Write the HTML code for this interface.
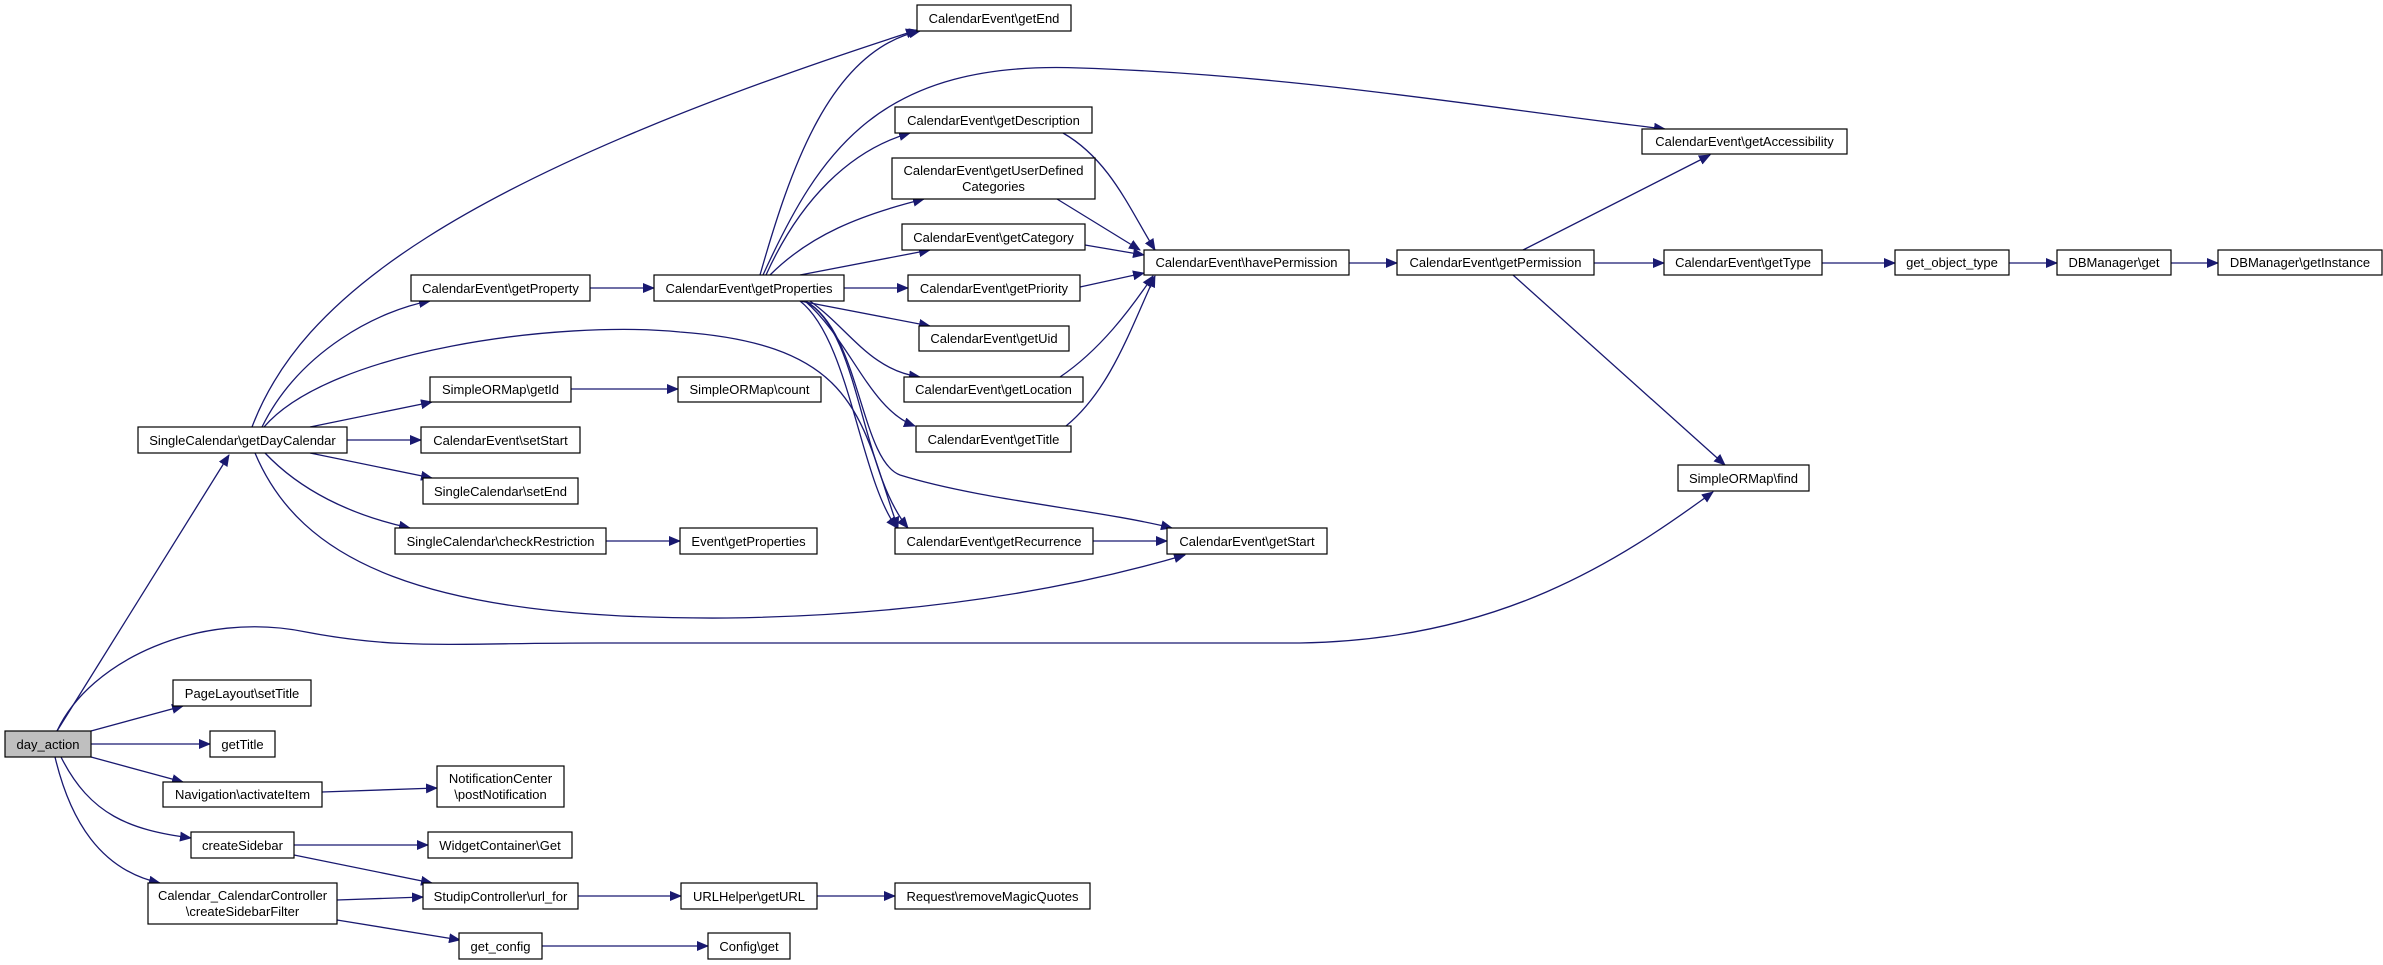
<!DOCTYPE html>
<html><head><meta charset="utf-8"><style>
html,body{margin:0;padding:0;background:#fff;}
svg{display:block;}
text{font-family:"Liberation Sans",Arial,sans-serif;font-size:13px;fill:#000;}
</style></head><body>
<svg width="2383" height="965" viewBox="0 0 2383 965" xmlns="http://www.w3.org/2000/svg">
<defs>
<marker id="a" markerWidth="12" markerHeight="10" refX="11" refY="5" orient="auto" markerUnits="userSpaceOnUse">
<path d="M0,0 L12,5 L0,10 z" fill="#191970"/>
</marker>
</defs>
<g fill="none" stroke="#191970" stroke-width="1.3" marker-end="url(#a)">
<path d="M57,731 L229,455"/>
<path d="M252,427 C300,300 450,180 917,30"/>
<path d="M262,427 C300,350 380,310 430,301"/>
<path d="M264,427 C330,350 560,320 680,332 C860,345 860,420 898,528"/>
<path d="M310,427 L432,402"/>
<path d="M347,440 L421,440"/>
<path d="M310,453 L432,478"/>
<path d="M265,453 C300,490 350,515 410,528"/>
<path d="M255,453 C300,560 420,620 727,618 C950,615 1100,580 1185,555"/>
<path d="M57,731 C90,660 200,610 306,632 C400,650 450,643 600,643 L1300,643 C1500,640 1620,560 1713,492"/>
<path d="M91,731 L183,706"/>
<path d="M91,744 L210,744"/>
<path d="M91,757 L183,782"/>
<path d="M61,757 C90,815 130,830 191,838"/>
<path d="M55,757 C70,820 100,870 160,883"/>
<path d="M322,792 L437,788"/>
<path d="M294,845 L428,845"/>
<path d="M294,855 L432,883"/>
<path d="M337,900 L423,897"/>
<path d="M337,920 L460,940"/>
<path d="M578,896 L681,896"/>
<path d="M817,896 L895,896"/>
<path d="M542,946 L708,946"/>
<path d="M571,389 L678,389"/>
<path d="M606,541 L680,541"/>
<path d="M590,288 L654,288"/>
<path d="M760,275 C790,170 830,50 920,31"/>
<path d="M763,275 C820,150 880,60 1080,68 C1300,75 1500,110 1665,129"/>
<path d="M766,275 C800,200 850,150 910,133"/>
<path d="M770,275 C810,235 860,215 924,199"/>
<path d="M800,275 L930,250"/>
<path d="M844,288 L908,288"/>
<path d="M800,301 L930,326"/>
<path d="M810,301 C850,330 870,370 920,377"/>
<path d="M805,301 C850,340 870,410 915,426"/>
<path d="M800,301 C850,340 860,480 897,528"/>
<path d="M805,301 C860,330 860,470 908,528"/>
<path d="M805,301 C860,330 860,460 900,475 C980,500 1100,510 1172,528"/>
<path d="M1063,133 C1110,160 1130,210 1155,250"/>
<path d="M1057,199 L1140,250"/>
<path d="M1085,245 L1144,255"/>
<path d="M1080,287 L1144,273"/>
<path d="M1060,377 C1100,350 1130,310 1153,276"/>
<path d="M1066,426 C1110,390 1130,330 1155,276"/>
<path d="M1093,541 L1167,541"/>
<path d="M1349,263 L1397,263"/>
<path d="M1523,250 L1710,155"/>
<path d="M1594,263 L1664,263"/>
<path d="M1822,263 L1895,263"/>
<path d="M2009,263 L2057,263"/>
<path d="M2171,263 L2218,263"/>
<path d="M1513,275 L1725,465"/>
</g>
<g stroke="#000" stroke-width="1.2" fill="#fff">
<rect x="5" y="731" width="86" height="26" fill="#bfbfbf"/>
<rect x="138" y="427" width="209" height="26"/>
<rect x="411" y="275" width="179" height="26"/>
<rect x="654" y="275" width="190" height="26"/>
<rect x="430" y="377" width="141" height="25"/>
<rect x="678" y="377" width="143" height="25"/>
<rect x="421" y="427" width="159" height="26"/>
<rect x="423" y="478" width="155" height="26"/>
<rect x="395" y="528" width="211" height="26"/>
<rect x="680" y="528" width="137" height="26"/>
<rect x="895" y="528" width="198" height="26"/>
<rect x="1167" y="528" width="160" height="26"/>
<rect x="173" y="680" width="138" height="26"/>
<rect x="210" y="731" width="65" height="26"/>
<rect x="163" y="782" width="159" height="25"/>
<rect x="437" y="766" width="127" height="41"/>
<rect x="191" y="832" width="103" height="26"/>
<rect x="428" y="832" width="144" height="26"/>
<rect x="148" y="883" width="189" height="41"/>
<rect x="423" y="883" width="155" height="26"/>
<rect x="681" y="883" width="136" height="26"/>
<rect x="895" y="883" width="195" height="26"/>
<rect x="459" y="933" width="83" height="26"/>
<rect x="708" y="933" width="82" height="26"/>
<rect x="917" y="5" width="154" height="26"/>
<rect x="895" y="107" width="197" height="26"/>
<rect x="892" y="158" width="203" height="41"/>
<rect x="902" y="224" width="183" height="26"/>
<rect x="908" y="275" width="172" height="26"/>
<rect x="919" y="326" width="150" height="25"/>
<rect x="904" y="377" width="179" height="25"/>
<rect x="916" y="426" width="155" height="26"/>
<rect x="1144" y="250" width="205" height="25"/>
<rect x="1397" y="250" width="197" height="25"/>
<rect x="1664" y="250" width="158" height="25"/>
<rect x="1895" y="250" width="114" height="25"/>
<rect x="2057" y="250" width="114" height="25"/>
<rect x="2218" y="250" width="164" height="25"/>
<rect x="1642" y="129" width="205" height="25"/>
<rect x="1678" y="465" width="131" height="26"/>
</g>
<g text-anchor="middle">
<text x="48" y="749">day_action</text>
<text x="242.5" y="445">SingleCalendar\getDayCalendar</text>
<text x="500.5" y="293">CalendarEvent\getProperty</text>
<text x="749" y="293">CalendarEvent\getProperties</text>
<text x="500.5" y="394">SimpleORMap\getId</text>
<text x="749.5" y="394">SimpleORMap\count</text>
<text x="500.5" y="445">CalendarEvent\setStart</text>
<text x="500.5" y="496">SingleCalendar\setEnd</text>
<text x="500.5" y="546">SingleCalendar\checkRestriction</text>
<text x="748.5" y="546">Event\getProperties</text>
<text x="994" y="546">CalendarEvent\getRecurrence</text>
<text x="1247" y="546">CalendarEvent\getStart</text>
<text x="242" y="698">PageLayout\setTitle</text>
<text x="242.5" y="749">getTitle</text>
<text x="242.5" y="799">Navigation\activateItem</text>
<text x="500.5" y="783">NotificationCenter</text>
<text x="500.5" y="799">\postNotification</text>
<text x="242.5" y="850">createSidebar</text>
<text x="500" y="850">WidgetContainer\Get</text>
<text x="242.5" y="900">Calendar_CalendarController</text>
<text x="242.5" y="916">\createSidebarFilter</text>
<text x="500.5" y="901">StudipController\url_for</text>
<text x="749" y="901">URLHelper\getURL</text>
<text x="992.5" y="901">Request\removeMagicQuotes</text>
<text x="500.5" y="951">get_config</text>
<text x="749" y="951">Config\get</text>
<text x="994" y="23">CalendarEvent\getEnd</text>
<text x="993.5" y="125">CalendarEvent\getDescription</text>
<text x="993.5" y="175">CalendarEvent\getUserDefined</text>
<text x="993.5" y="191">Categories</text>
<text x="993.5" y="242">CalendarEvent\getCategory</text>
<text x="994" y="293">CalendarEvent\getPriority</text>
<text x="994" y="343">CalendarEvent\getUid</text>
<text x="993.5" y="394">CalendarEvent\getLocation</text>
<text x="993.5" y="444">CalendarEvent\getTitle</text>
<text x="1246.5" y="267">CalendarEvent\havePermission</text>
<text x="1495.5" y="267">CalendarEvent\getPermission</text>
<text x="1743" y="267">CalendarEvent\getType</text>
<text x="1952" y="267">get_object_type</text>
<text x="2114" y="267">DBManager\get</text>
<text x="2300" y="267">DBManager\getInstance</text>
<text x="1744.5" y="146">CalendarEvent\getAccessibility</text>
<text x="1743.5" y="483">SimpleORMap\find</text>
</g>
</svg>
</body></html>
